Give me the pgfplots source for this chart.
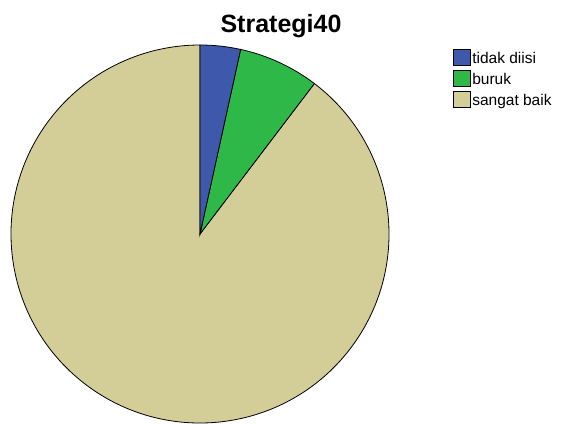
\documentclass[border=0pt]{standalone}
\usepackage{pgfplots}
\usepackage{pgfplotstable}
\pgfplotsset{compat=1.18}
\usepackage{fontspec}
\setmainfont{Liberation Sans}
\definecolor{pieblue}{HTML}{3E58AC}
\definecolor{piegreen}{HTML}{2EB848}
\definecolor{piebeige}{HTML}{D3CE97}
\pgfplotstableread{
label value
tidak 1
buruk 2
baik 26
}\piedata
\pgfplotstablegetelem{0}{value}\of\piedata \let\va\pgfplotsretval
\pgfplotstablegetelem{1}{value}\of\piedata \let\vb\pgfplotsretval
\pgfplotstablegetelem{2}{value}\of\piedata \let\vc\pgfplotsretval
\pgfmathsetmacro\tot{\va+\vb+\vc}
\pgfmathsetmacro\aA{90-360*\va/\tot}
\pgfmathsetmacro\aB{\aA-360*\vb/\tot}
\pgfmathsetmacro\aC{\aB-360*\vc/\tot}
\begin{document}
\begin{tikzpicture}
\begin{axis}[
  anchor=south west, at={(0pt,0pt)},
  scale only axis, width=570pt, height=424pt,
  xmin=0, xmax=570, ymin=0, ymax=424,
  hide axis, clip=false,
  legend image code/.code={\draw[#1,draw=black,line width=0.6pt] (0pt,-8pt) rectangle (17pt,8pt);},
  legend style={at={(axis cs:453,375)}, anchor=north west, draw=none, fill=none,
    inner sep=0pt, row sep=4.5pt, font=\fontsize{15.5}{17}\selectfont,
    nodes={inner sep=1.5pt, text depth=0pt}},
  legend cell align=left,
]
\addlegendimage{fill=pieblue}\addlegendentry{tidak diisi}
\addlegendimage{fill=piegreen}\addlegendentry{buruk}
\addlegendimage{fill=piebeige}\addlegendentry{sangat baik}
\filldraw[fill=piebeige, draw=black, line width=0.8pt] (axis cs:200,190) -- +(\aB:189pt) arc[start angle=\aB, end angle=\aC, radius=189pt] -- cycle;
\filldraw[fill=piegreen, draw=black, line width=0.8pt] (axis cs:200,190) -- +(\aA:189pt) arc[start angle=\aA, end angle=\aB, radius=189pt] -- cycle;
\filldraw[fill=pieblue, draw=black, line width=0.8pt] (axis cs:200,190) -- +(90:189pt) arc[start angle=90, end angle=\aA, radius=189pt] -- cycle;
\node[anchor=base, font=\bfseries\fontsize{25}{28}\selectfont] at (axis cs:281,391) {Strategi40};
\end{axis}
\pgfresetboundingbox
\path[use as bounding box] (0pt,0pt) rectangle (570pt,424pt);
\end{tikzpicture}
\end{document}
